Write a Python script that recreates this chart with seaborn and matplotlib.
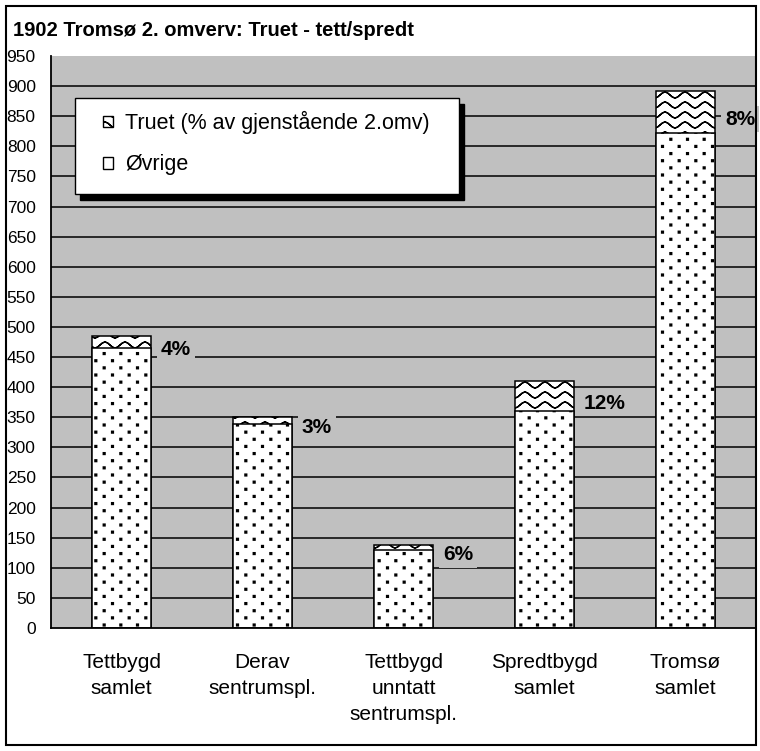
import warnings
import numpy as np
import pandas as pd
import seaborn as sns
import matplotlib
matplotlib.use('Agg')
import matplotlib.pyplot as plt
import matplotlib.hatch as mhatch
from matplotlib.path import Path
from matplotlib.patches import Rectangle, Patch

warnings.filterwarnings('ignore')

# data
categories = ['Tettbygd\nsamlet', 'Derav\nsentrumspl.', 'Tettbygd\nunntatt\nsentrumspl.',
              'Spredtbygd\nsamlet', 'Tromsø\nsamlet']
ovrige = [465, 339, 130, 360, 822]
truet = [20, 11, 8, 50, 70]
pct_labels = ['4%', '3%', '6%', '12%', '8%']
yticks = list(range(0, 951, 50))
title = '1902 Tromsø 2. omverv: Truet - tett/spredt'
legend_labels = ['Truet (% av gjenstående 2.omv)', 'Øvrige']

df = pd.DataFrame({'kategori': categories, 'ovrige': ovrige, 'truet': truet})
df['total'] = df['ovrige'] + df['truet']


# extra hatch patterns: '~' = wave (Truet), ':' = square dots (Øvrige)
class WaveHatch(mhatch.HatchPatternBase):
    def __init__(self, hatch, density):
        self.rows = hatch.count('~') * 10
        self.pts = 41
        self.num_vertices = self.rows * self.pts * 2

    def set_vertices_and_codes(self, vertices, codes):
        xs = np.linspace(0, 1, self.pts)
        wave = 0.3 / self.rows * np.sin(xs * 10 * np.pi)
        n = self.pts * 2
        for i in range(self.rows):
            seg = np.column_stack([xs, (i + 0.5) / self.rows + wave])
            vertices[i * n:(i + 1) * n] = np.vstack([seg, seg[::-1]])
            codes[i * n] = Path.MOVETO
            codes[i * n + 1:(i + 1) * n] = Path.LINETO


class DotHatch(mhatch.HatchPatternBase):
    def __init__(self, hatch, density):
        self.cols, self.rows = 6, 14
        self.num_vertices = self.cols * self.rows * 5 if ':' in hatch else 0

    def set_vertices_and_codes(self, vertices, codes):
        s = 0.009
        sq = np.array([[-s, -s], [s, -s], [s, s], [-s, s], [-s, -s]])
        k = 0
        for r in range(self.rows):
            for c in range(self.cols):
                cx = (c + 0.25 + 0.5 * (r % 2)) / self.cols
                cy = (r + 0.5) / self.rows
                vertices[k:k + 5] = sq + [cx, cy]
                codes[k:k + 5] = [Path.MOVETO, Path.LINETO, Path.LINETO,
                                  Path.LINETO, Path.CLOSEPOLY]
                k += 5


mhatch._hatch_types.extend([WaveHatch, DotHatch])

sns.set_style('white')
plt.rcParams['font.family'] = ['Liberation Sans', 'DejaVu Sans']
plt.rcParams['hatch.linewidth'] = 1.0
plt.rcParams['hatch.color'] = 'black'
for key in ['text.color', 'axes.labelcolor', 'xtick.color', 'ytick.color']:
    plt.rcParams[key] = 'black'

fig = plt.figure(figsize=(7.6, 7.51), dpi=100)
ax = fig.add_axes([51 / 760, 123 / 751, 705 / 760, 572 / 751])
ax.set_facecolor('#C0C0C0')

# stacked bars: total (Truet on top) first, Øvrige over it
sns.barplot(data=df, x='kategori', y='total', color='white', edgecolor='black',
            linewidth=1.1, hatch='~', width=0.42, saturation=1, ax=ax)
sns.barplot(data=df, x='kategori', y='ovrige', color='white', edgecolor='black',
            linewidth=1.1, hatch=':', width=0.42, saturation=1, ax=ax)

for v in yticks[1:-1]:
    ax.axhline(v, color='black', lw=1.1, zorder=0.5)

ax.set_ylim(0, 950)
ax.set_yticks(yticks)
ax.set_xlim(-0.5, 4.5)
ax.set_xticks(np.arange(-0.5, 5, 1))
ax.set_xticklabels([])
ax.set_xticks(range(5), minor=True)
ax.set_xticklabels(categories, minor=True, linespacing=1.45)
ax.tick_params(axis='x', which='minor', length=0, pad=18, labelsize=15)
ax.tick_params(axis='x', which='major', length=5, width=1.2, direction='out')
ax.tick_params(axis='y', length=5, width=1.2, direction='out', pad=6, labelsize=12.5)
ax.set_xlabel('')
ax.set_ylabel('')
for side in ['top', 'right']:
    ax.spines[side].set_visible(False)
for side in ['left', 'bottom']:
    ax.spines[side].set_color('black')
    ax.spines[side].set_linewidth(1.3)

# percentage labels beside each bar
for i in range(len(categories)):
    ax.text(i + 0.28, ovrige[i] + truet[i] / 2 - 12, pct_labels[i], ha='left', va='center',
            fontsize=15, fontweight='bold', color='black', zorder=3, clip_on=False,
            bbox=dict(fc='#C0C0C0', ec='none', pad=2.5))

# legend box with drop shadow
x0, x1 = (75 - 51) / 705, (459 - 51) / 705
y0, y1 = (628 - 194) / 572, (628 - 98) / 572
ax.add_patch(Rectangle((x0 + 5 / 705, y0 - 6 / 572), x1 - x0, y1 - y0, transform=ax.transAxes,
                       fc='black', ec='black', zorder=4))
ax.add_patch(Rectangle((x0, y0), x1 - x0, y1 - y0, transform=ax.transAxes,
                       fc='white', ec='black', lw=1.0, zorder=5))
handles = [Patch(fc='white', ec='black', hatch='~', lw=1.0, label=legend_labels[0]),
           Patch(fc='white', ec='black', lw=1.0, label=legend_labels[1])]
leg = ax.legend(handles=handles, loc='upper left', bbox_to_anchor=((103 - 51) / 705, (628 - 111) / 572),
                frameon=False, fontsize=15.5, borderpad=0, borderaxespad=0,
                handlelength=0.47, handleheight=0.47, handletextpad=0.56, labelspacing=0.94)
leg.set_zorder(6)

fig.text(13 / 760, 1 - 30 / 751, title, fontsize=14.5, fontweight='bold', ha='left', va='center')
fig.patches.append(Rectangle((6 / 760, 6 / 751), 750 / 760, 739 / 751, transform=fig.transFigure,
                             fill=False, ec='black', lw=1.5))

fig.savefig('out.png', dpi=100)
